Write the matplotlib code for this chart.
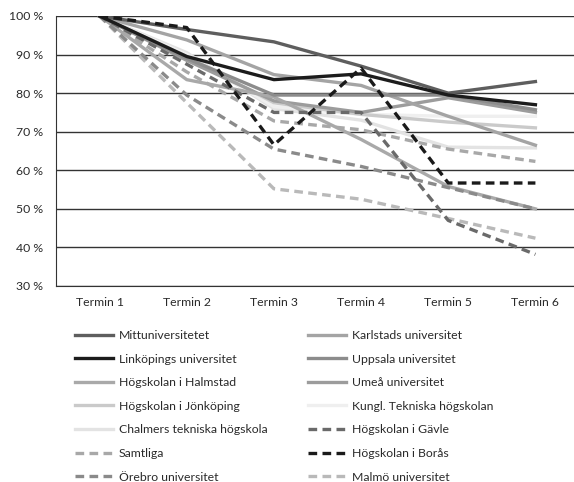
import matplotlib
matplotlib.use('Agg')
import matplotlib.pyplot as plt
from matplotlib.lines import Line2D

plt.rcParams['font.family'] = ['Lato', 'DejaVu Sans']

terms = ['Termin 1', 'Termin 2', 'Termin 3', 'Termin 4', 'Termin 5', 'Termin 6']
yticks = [30, 40, 50, 60, 70, 80, 90, 100]

# share of students remaining per term (%)
mittuniversitetet = [100, 96.5, 93.3, 87.0, 80.0, 83.0]
karlstads = [100, 93.8, 84.8, 82.0, 74.0, 66.5]
linkopings = [100, 89.5, 83.5, 85.0, 79.5, 77.0]
uppsala = [100, 89.0, 79.5, 79.5, 79.5, 75.7]
halmstad = [100, 83.5, 79.0, 68.0, 55.8, 50.0]
umea = [100, 88.5, 78.0, 75.0, 78.8, 75.0]
jonkoping = [100, 89.5, 77.5, 74.5, 72.5, 71.0]
kth = [100, 90.0, 76.5, 74.5, 74.0, 74.0]
chalmers = [100, 90.5, 76.0, 73.0, 66.0, 65.8]
gavle = [100, 87.5, 75.0, 75.0, 47.0, 38.2]
samtliga = [100, 85.5, 72.8, 70.5, 65.5, 62.3]
boras = [100, 97.0, 66.6, 86.5, 56.7, 56.7]
orebro = [100, 79.5, 65.5, 61.0, 55.5, 50.0]
malmo = [100, 77.5, 55.2, 52.5, 47.5, 42.4]

# (label, values, colour, dashed) in legend row order: left column, right column
left_col = [
    ('Mittuniversitetet', mittuniversitetet, '#5e5e5e', False),
    ('Linköpings universitet', linkopings, '#1c1c1c', False),
    ('Högskolan i Halmstad', halmstad, '#a9a9a9', False),
    ('Högskolan i Jönköping', jonkoping, '#cacaca', False),
    ('Chalmers tekniska högskola', chalmers, '#e3e3e3', False),
    ('Samtliga', samtliga, '#a8a8a8', True),
    ('Örebro universitet', orebro, '#8a8a8a', True),
]
right_col = [
    ('Karlstads universitet', karlstads, '#a4a4a4', False),
    ('Uppsala universitet', uppsala, '#8c8c8c', False),
    ('Umeå universitet', umea, '#9c9c9c', False),
    ('Kungl. Tekniska högskolan', kth, '#efefef', False),
    ('Högskolan i Gävle', gavle, '#6a6a6a', True),
    ('Högskolan i Borås', boras, '#1a1a1a', True),
    ('Malmö universitet', malmo, '#b9b9b9', True),
]

W, H = 574, 482
FS = 8.8
fig = plt.figure(figsize=(W / 100, H / 100), dpi=100)
ax = fig.add_axes([56 / W, 1 - 286 / H, 523 / W, 270 / H])

x = list(range(len(terms)))
DASH = (0, (2.6, 1.6))
LW = 2.4

order = ['Chalmers tekniska högskola', 'Kungl. Tekniska högskolan', 'Högskolan i Jönköping',
         'Umeå universitet', 'Högskolan i Halmstad', 'Karlstads universitet', 'Uppsala universitet',
         'Malmö universitet', 'Samtliga', 'Örebro universitet', 'Högskolan i Gävle',
         'Mittuniversitetet', 'Linköpings universitet', 'Högskolan i Borås']
series = {s[0]: s for s in left_col + right_col}
for name in order:
    label, vals, col, dashed = series[name]
    ax.plot(x, vals, color=col, lw=LW, ls=DASH if dashed else '-', zorder=3)

ax.set_xlim(-0.5, 5.5)
ax.set_ylim(30, 100)
ax.set_yticks(yticks)
ax.set_yticklabels([f'{v} %' for v in yticks])
ax.set_xticks(x)
ax.set_xticklabels(terms)
ax.yaxis.grid(True, color='#333333', lw=1.0)
ax.set_axisbelow(True)
for s in ['top', 'right']:
    ax.spines[s].set_visible(False)
ax.spines['left'].set_color('#333333')
ax.spines['bottom'].set_color('#333333')
ax.tick_params(length=0, labelsize=FS, colors='#2a2a2a')
ax.tick_params(axis='y', pad=9)
ax.tick_params(axis='x', pad=8)


def make_legend(items, xpos):
    handles = [Line2D([], [], color=c, lw=LW, ls=DASH if d else '-') for _, _, c, d in items]
    labels = [l for l, _, _, _ in items]
    return fig.legend(handles, labels, loc='upper left', bbox_to_anchor=(xpos / W, 1 - 330 / H),
                      frameon=False, fontsize=FS, handlelength=3.1, handletextpad=0.5,
                      labelspacing=1.03, borderaxespad=0, borderpad=0, labelcolor='#2a2a2a')


make_legend(left_col, 75)
make_legend(right_col, 308)

fig.savefig('out.png', dpi=100, facecolor='white')
